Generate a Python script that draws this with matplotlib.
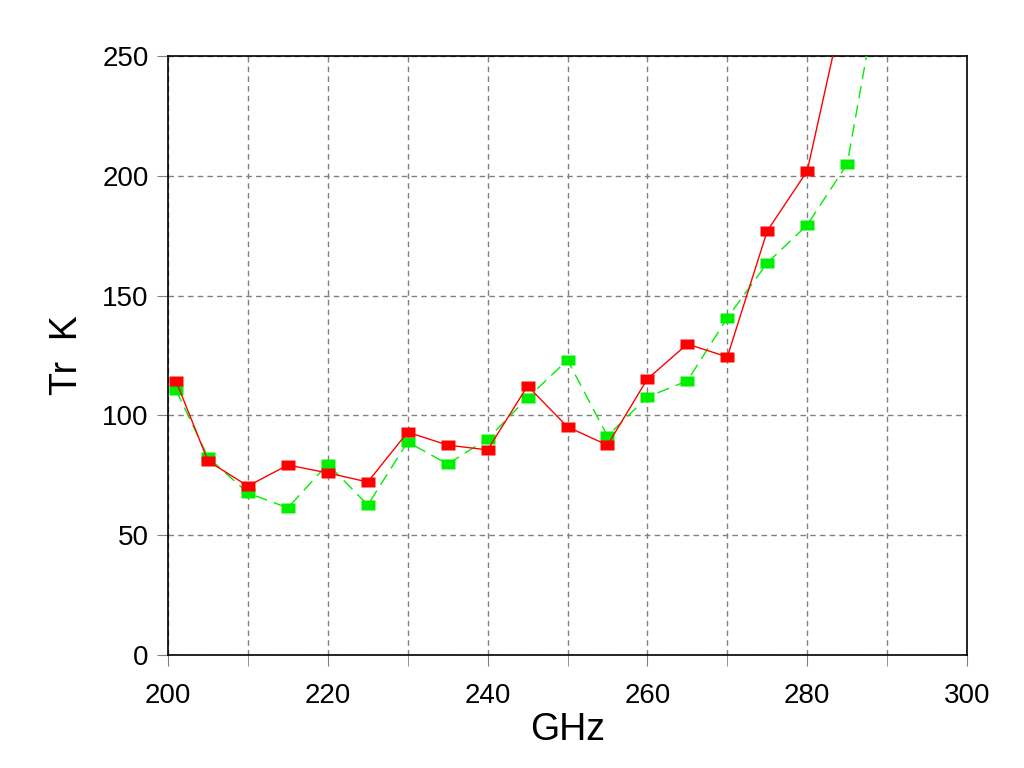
import matplotlib
matplotlib.use('Agg')
import matplotlib.pyplot as plt
from matplotlib.path import Path

# measured receiver temperature vs LO frequency
freq_red = [201, 205, 210, 215, 220, 225, 230, 235, 240, 245, 250, 255, 260, 265, 270, 275, 280, 285]
tr_red = [114.4, 81, 70.5, 79.3, 76, 72.2, 93, 87.6, 85.6, 112.3, 95.2, 87.6, 115.2, 129.8, 124.4, 177, 202, 277]

freq_green = [201, 205, 210, 215, 220, 225, 230, 235, 240, 245, 250, 255, 260, 265, 270, 275, 280, 285, 290]
tr_green = [110.6, 82.6, 67.6, 61.4, 79.7, 62.6, 88.9, 79.7, 90.2, 107.3, 123.1, 91.4, 107.7, 114.4, 140.7, 163.6, 179.5, 204.9, 298]

plt.rcParams['font.family'] = ['Liberation Sans', 'DejaVu Sans']

# wide rectangular marker like the original plot
rect = Path([(-1.4, -1), (1.4, -1), (1.4, 1), (-1.4, 1), (-1.4, -1)],
            [Path.MOVETO, Path.LINETO, Path.LINETO, Path.LINETO, Path.CLOSEPOLY])

fig = plt.figure(figsize=(10.24, 7.68), dpi=100)
ax = fig.add_axes([168 / 1024, 1 - 655 / 768, (967 - 168) / 1024, (655 - 56) / 768])

ax.plot(freq_green, tr_green, color='#00ee00', lw=1, ls=(0, (9, 5)),
        marker=rect, ms=9.5, mec='none', mfc='#00ee00', zorder=3)
ax.plot(freq_red, tr_red, color='#ff0000', lw=1, ls='-',
        marker=rect, ms=9.5, mec='none', mfc='#ff0000', zorder=4)

ax.set_xlim(200, 300)
ax.set_ylim(0, 250)
ax.set_xticks(range(200, 301, 20))
ax.set_xticks(range(210, 300, 20), minor=True)
ax.set_yticks(range(0, 251, 50))
ax.grid(True, which='both', color='#808080', ls=(0, (4, 3)), lw=1)
ax.tick_params(which='both', direction='out', length=8, color='#808080', labelsize=20)
ax.tick_params(axis='x', pad=12)
ax.tick_params(axis='y', pad=6)
for s in ax.spines.values():
    s.set_color('black')
    s.set_linewidth(1.2)

ax.set_xlabel('GHz', fontsize=27, labelpad=2)
ax.set_ylabel('Tr  K', fontsize=27, labelpad=12)

fig.savefig('out.png', dpi=100)
